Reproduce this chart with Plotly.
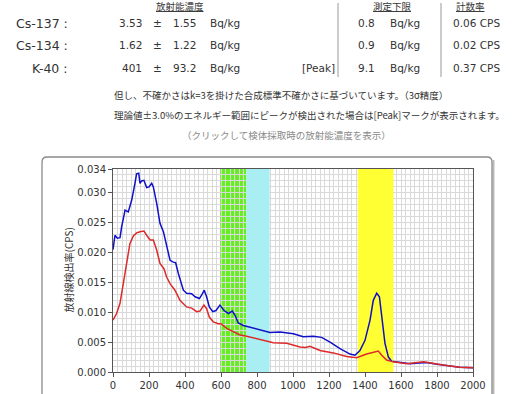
import plotly.graph_objects as go

# ---------------- data ----------------
energy_blue = [0, 11, 24, 39, 48, 67, 85, 104, 122, 131, 143, 150, 159, 172, 187, 200, 215, 224,
               243, 261, 280, 298, 317, 335, 348, 363, 391, 409, 437, 456, 480, 493, 507, 520,
               535, 554, 572, 594, 617, 641, 663, 678, 696, 724, 761, 798, 835, 872, 928, 1002,
               1057, 1113, 1159, 1206, 1261, 1317, 1344, 1372, 1400, 1428, 1446, 1465, 1480,
               1493, 1511, 1530, 1548, 1600, 1650, 1700, 1741, 1800, 1852, 1926, 2000]
cps_blue = [0.0205, 0.0229, 0.0224, 0.0225, 0.0243, 0.0271, 0.0268, 0.0288, 0.0316, 0.0332,
            0.0333, 0.0316, 0.0320, 0.0321, 0.0309, 0.0310, 0.0316, 0.0310, 0.0282, 0.0249,
            0.0235, 0.0210, 0.0187, 0.0184, 0.0183, 0.0165, 0.0137, 0.0132, 0.0131, 0.0126,
            0.0123, 0.0129, 0.0137, 0.0126, 0.0109, 0.0101, 0.0103, 0.0112, 0.0103, 0.0098,
            0.0102, 0.0095, 0.0082, 0.0078, 0.0075, 0.0073, 0.0070, 0.0066, 0.0067, 0.0064,
            0.0059, 0.0060, 0.0058, 0.0050, 0.0039, 0.0030, 0.0028, 0.0036, 0.0053, 0.0087,
            0.0120, 0.0132, 0.0126, 0.0092, 0.0048, 0.0025, 0.0018, 0.0016, 0.0014, 0.0015,
            0.0016, 0.0013, 0.0011, 0.0008, 0.0007]

energy_red = [0, 20, 39, 57, 76, 94, 113, 131, 150, 172, 187, 206, 224, 243, 261, 283, 298, 317,
              344, 372, 409, 437, 465, 483, 505, 520, 535, 557, 585, 600, 632, 669, 706, 743,
              798, 854, 891, 965, 1039, 1070, 1094, 1150, 1224, 1298, 1354, 1409, 1456, 1474,
              1493, 1520, 1557, 1631, 1724, 1780, 1852, 1926, 2000]
cps_red = [0.0087, 0.0098, 0.0115, 0.0148, 0.0187, 0.0215, 0.0228, 0.0233, 0.0235, 0.0236,
           0.0229, 0.0221, 0.0221, 0.0204, 0.0182, 0.0173, 0.0159, 0.0148, 0.0137, 0.0120,
           0.0109, 0.0107, 0.0101, 0.0102, 0.0112, 0.0106, 0.0092, 0.0084, 0.0081, 0.0081,
           0.0073, 0.0067, 0.0062, 0.0060, 0.0056, 0.0052, 0.0049, 0.0048, 0.0042, 0.0041,
           0.0043, 0.0036, 0.0032, 0.0026, 0.0024, 0.0030, 0.0034, 0.0035, 0.0028, 0.0020,
           0.0017, 0.0014, 0.0017, 0.0014, 0.0011, 0.0008, 0.0007]

bands = [(595, 740, "#66EE22", "below"), (740, 870, "#A8EEF2", "between"),
         (1360, 1558, "#FFFF33", "between")]

y_ticks = [0.0, 0.005, 0.010, 0.015, 0.020, 0.025, 0.030, 0.034]
x_ticks = [0, 200, 400, 600, 800, 1000, 1200, 1400, 1600, 1800, 2000]

nuclides = ["Cs-137 :", "Cs-134 :", "K-40 :"]
conc = ["3.53", "1.62", "401"]
unc = ["1.55", "1.22", "93.2"]
peak = ["", "", "[Peak]"]
mdl = ["0.8", "0.9", "9.1"]
rate = ["0.06 CPS", "0.02 CPS", "0.37 CPS"]

# ---------------- layout geometry (pixels) ----------------
W, H = 529, 394
L, R, T, B = 113, 473, 169, 372


def px(x):
    return (x - L) / (R - L)


def py(y):
    return (B - y) / (B - T)


LAT = "DejaVu Sans, Noto Sans CJK JP"
JP = "Noto Sans CJK JP"
TXT = "#333333"

fig = go.Figure()
fig.add_trace(go.Scatter(x=energy_blue, y=cps_blue, mode="lines",
                         line=dict(color="#1010C8", width=1.5), hoverinfo="skip"))
fig.add_trace(go.Scatter(x=energy_red, y=cps_red, mode="lines",
                         line=dict(color="#DD2A2A", width=1.5), hoverinfo="skip"))

shapes = []
for x0, x1, c, layer in bands:
    shapes.append(dict(type="rect", xref="x", yref="y", x0=x0, x1=x1, y0=0, y1=0.034,
                       fillcolor=c, line=dict(width=0), layer=layer))

# panel with rounded top corners
pl, pr, pt, pb = 42, 492, 157, 420
rx, ry = 5 / (R - L), 5 / (B - T)
path = (f"M {px(pl)},{py(pb)} L {px(pl)},{py(pt)-ry} Q {px(pl)},{py(pt)} {px(pl)+rx},{py(pt)} "
        f"L {px(pr)-rx},{py(pt)} Q {px(pr)},{py(pt)} {px(pr)},{py(pt)-ry} L {px(pr)},{py(pb)}")
path_sh = (f"M {px(pr+1.5)},{py(pt+3)} L {px(pr+1.5)},{py(pb)}")
shapes.append(dict(type="path", xref="paper", yref="paper", path=path_sh,
                   line=dict(color="#BBBBBB", width=2), layer="below"))
shapes.append(dict(type="path", xref="paper", yref="paper", path=path,
                   line=dict(color="#8A8A8A", width=1.3), layer="below"))
# header separators
for sx in (338, 441):
    shapes.append(dict(type="line", xref="paper", yref="paper", x0=px(sx), x1=px(sx),
                       y0=py(3), y1=py(77), line=dict(color="#999999", width=1)))

ann = []


def add(text, x, y, anchor="left", size=11, color=TXT, family=LAT, angle=0):
    ann.append(dict(text=text, x=px(x), y=py(y), xref="paper", yref="paper",
                    xanchor=anchor, yanchor="middle", showarrow=False, textangle=angle,
                    font=dict(size=size, color=color, family=family)))


add("<u>放射能濃度</u>", 180, 6, "center", 9.5, family=JP)
add("<u>測定下限</u>", 392, 6, "center", 9.5, family=JP)
add("<u>計数率</u>", 470, 6, "center", 9.5, family=JP)
rows_y = [23, 45, 68]
for i, yy in enumerate(rows_y):
    add(nuclides[i], 70, yy, "right", 12.5)
    add(conc[i], 144, yy, "right", 10.5)
    add("±", 157, yy, "center", 10.5)
    add(unc[i], 198, yy, "right", 10.5)
    add("Bq/kg", 208, yy, "left", 10.5)
    if peak[i]:
        add(peak[i], 300, yy, "left", 10.5)
    add(mdl[i], 377, yy, "right", 10.5)
    add("Bq/kg", 388, yy, "left", 10.5)
    add(rate[i], 502, yy, "right", 10.5)

add("但し、不確かさはk=3を掛けた合成標準不確かさに基づいています。（3σ精度）", 112, 95, "left", 9.5, family=JP)
add("理論値±3.0%のエネルギー範囲にピークが検出された場合は[Peak]マークが表示されます。", 112, 115, "left", 9.5, family=JP)
add("（クリックして検体採取時の放射能濃度を表示）", 286, 135, "center", 9.5, "#8A8A8A", JP)
add("放射線検出率(CPS)", 68, (T + B) / 2, "center", 10, family=JP, angle=-90)

fig.update_layout(
    width=W, height=H,
    margin=dict(l=L, r=W - R, t=T, b=H - B, pad=0, autoexpand=False),
    paper_bgcolor="white", plot_bgcolor="white",
    showlegend=False,
    shapes=shapes, annotations=ann,
    xaxis=dict(range=[0, 2000], tickvals=x_ticks, ticks="outside", ticklen=4,
               tickcolor="#555555", showline=True, linecolor="#555555", linewidth=1,
               mirror=True, showgrid=True, gridcolor="#D9D9D9", gridwidth=1, zeroline=False,
               minor=dict(dtick=25, showgrid=True, gridcolor="#D9D9D9", gridwidth=1),
               tickfont=dict(family=LAT, size=10, color=TXT), fixedrange=True,
               automargin=False),
    yaxis=dict(range=[0, 0.034], tickvals=y_ticks, tickformat=".3f", ticks="outside",
               ticklen=4, tickcolor="#555555", showline=True, linecolor="#555555",
               linewidth=1, mirror=True, showgrid=True, gridcolor="#D9D9D9", gridwidth=1,
               zeroline=False,
               minor=dict(dtick=0.001, showgrid=True, gridcolor="#D9D9D9", gridwidth=1),
               tickfont=dict(family=LAT, size=10, color=TXT), fixedrange=True,
               automargin=False),
)

fig.write_html("out.html", config={"displayModeBar": False},
               post_script="document.body.style.margin='0';document.body.style.overflow='hidden';")
